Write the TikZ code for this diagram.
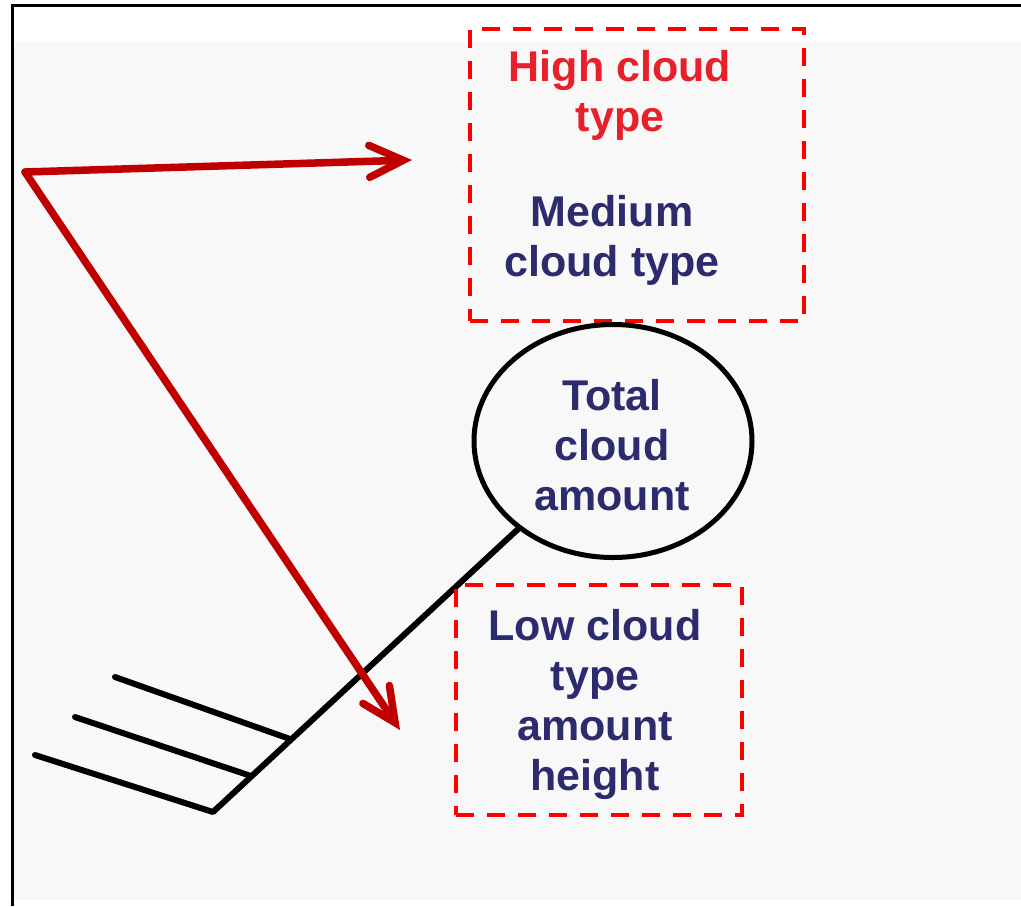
\documentclass[tikz,border=0pt]{standalone}
\usepackage{fontspec}
\setmainfont{Liberation Sans}
\usetikzlibrary{arrows.meta,shapes.geometric}
\definecolor{navytext}{HTML}{2B2B6E}
\definecolor{redtext}{HTML}{E8202A}
\definecolor{dashred}{HTML}{FF0000}
\definecolor{arrowred}{HTML}{C00000}
\definecolor{bggray}{HTML}{F8F8F8}
\tikzset{
  dashbox/.style={draw=dashred, line width=4.5pt, dash pattern=on 18pt off 13pt, inner sep=0pt},
  label/.style={font=\fontsize{43}{50}\selectfont\bfseries, align=center, inner sep=0pt},
  barbline/.style={line width=6pt, line cap=round, line join=round, black},
  pointer/.style={draw=arrowred, line width=7.5pt, line cap=round, line join=miter,
    -{Straight Barb[length=34pt, width=32pt, line cap=round]}}
}
\begin{document}
\begin{tikzpicture}[x=1pt, y=-1pt]
\useasboundingbox (0,0) rectangle (1021,906);
\fill[white] (0,0) rectangle (1021,906);
\fill[bggray] (13,42) rectangle (1021,900);
\draw[line width=3pt] (12,906) -- (12,5) -- (1021,5);

% upper dashed box
\node[dashbox, minimum width=334pt, minimum height=292pt] (upper) at (637,175) {};
\node[label, text=redtext] (high) at (620,95) {High cloud\\type};
\node[label, text=navytext] (medium) at (612,240) {Medium\\cloud type};

% station circle
\node[draw, ellipse, line width=5pt, minimum width=278pt, minimum height=233pt, inner sep=0pt] (circ) at (613,441) {};
\node[label, text=navytext] (total) at (612,445) {Total\\cloud\\amount};

% wind barb
\coordinate (b3) at (213,812);
\coordinate (j2) at (251,776);
\coordinate (j1) at (290,739);
\coordinate (e1) at (115,677);
\coordinate (e2) at (75,717);
\coordinate (e3) at (35,755);
\draw[barbline] (circ) -- (b3) -- (e3);
\draw[barbline] (j2) -- (e2);
\draw[barbline] (j1) -- (e1);

% lower dashed box
\node[dashbox, minimum width=286pt, minimum height=230pt] (lower) at (599,700) {};
\node[label, text=navytext] (low) at (595,704) {Low cloud\\type\\amount\\height};

% red pointers
\coordinate (o) at (25,172);
\coordinate (t1) at (412,160);
\coordinate (t2) at (400,730);
\draw[pointer] (o) -- (t1);
\draw[pointer] (o) -- (t2);
\end{tikzpicture}
\end{document}
